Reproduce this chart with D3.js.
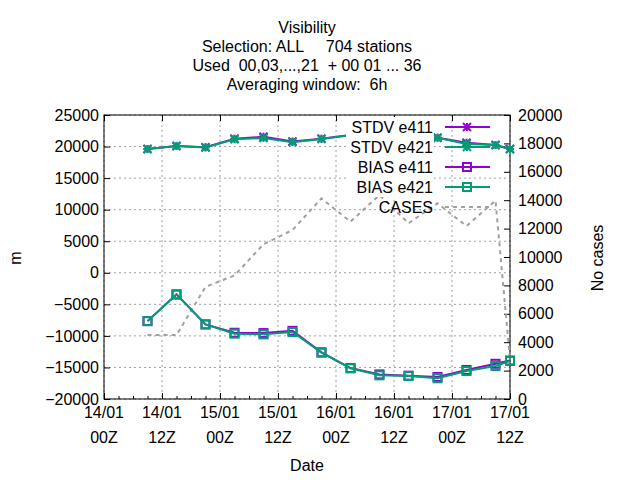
<!DOCTYPE html>
<html><head><meta charset="utf-8">
<script src="https://cdn.jsdelivr.net/npm/d3@7"></script>
<style>body{margin:0;background:#fff}text{font-family:"Liberation Sans",Arial,sans-serif;font-size:16px}</style>
</head><body><svg id="c" width="640" height="480"></svg>
<script>
// hours since 14/01 00Z
const hours = [9, 15, 21, 27, 33, 39, 45, 51, 57, 63, 69, 75, 81, 84];
const stdvE411 = [19600, 20100, 19900, 21250, 21550, 20800, 21250, 21850, 21800, 21600, 21400, 20600, 20250, 19600];
const stdvE421 = [19600, 20100, 19850, 21150, 21350, 20700, 21200, 21800, 21800, 21600, 21400, 20400, 20250, 19600];
const biasE411 = [-7660, -3430, -8180, -9500, -9550, -9200, -12600, -15100, -16100, -16300, -16500, -15400, -14420, -13900];
const biasE421 = [-7660, -3430, -8180, -9650, -9760, -9390, -12660, -15140, -16250, -16360, -16720, -15570, -14780, -13980];
const cases = [4500, 4500, 7900, 8700, 10900, 11900, 14130, 12490, 14370, 12370, 13780, 12180, 13970, 2750];
const xTickHours = [0, 12, 24, 36, 48, 60, 72, 84];
const xTickLabels = [["14/01","00Z"],["14/01","12Z"],["15/01","00Z"],["15/01","12Z"],["16/01","00Z"],["16/01","12Z"],["17/01","00Z"],["17/01","12Z"]];
const titleLines = ["Visibility", "Selection: ALL     704 stations", "Used  00,03,...,21  + 00 01 ... 36", "Averaging window:  6h"];

const L = 104, R = 510, T = 115, B = 399;
const svg = d3.select("#c");
const x = d3.scaleLinear().domain([0, 84]).range([L, R]);
const y = d3.scaleLinear().domain([-20000, 25000]).range([B, T]);
const y2 = d3.scaleLinear().domain([0, 20000]).range([B, T]);
const purple = "#9400d3", green = "#009e73", grey = "#a0a0a0";

// grid
const g = svg.append("g").attr("stroke", "#a0a0a0").attr("stroke-dasharray", "2,3").attr("stroke-width", 1);
y.ticks(9).forEach(v => g.append("line").attr("x1", L).attr("x2", R).attr("y1", y(v)).attr("y2", y(v)));
xTickHours.forEach(h => g.append("line").attr("x1", x(h)).attr("x2", x(h)).attr("y1", T).attr("y2", B));

// axes
svg.append("g").attr("transform", `translate(${L},0)`).call(d3.axisLeft(y).tickValues(d3.range(-20000, 25001, 5000)).tickFormat(d3.format("d")).tickSizeInner(-6).tickSizeOuter(0).tickPadding(5));
svg.append("g").attr("transform", `translate(${R},0)`).call(d3.axisRight(y2).tickValues(d3.range(0, 20001, 2000)).tickFormat(d3.format("d")).tickSizeInner(-6).tickSizeOuter(0).tickPadding(8));
svg.append("g").attr("transform", `translate(0,${B})`).call(d3.axisBottom(x).tickValues(d3.range(0, 85, 3)).tickFormat("").tickSizeInner(-3).tickSizeOuter(0));
svg.append("g").attr("transform", `translate(0,${B})`).call(d3.axisBottom(x).tickValues(xTickHours).tickFormat("").tickSizeInner(-6).tickSizeOuter(0));
svg.append("g").attr("transform", `translate(0,${T})`).call(d3.axisTop(x).tickValues(xTickHours).tickFormat("").tickSizeInner(-6).tickSizeOuter(0));
svg.selectAll(".domain").remove();
svg.selectAll(".tick text").attr("font-size", 16).attr("fill", "#000");
svg.selectAll(".tick line").attr("stroke", "#000");
svg.append("rect").attr("x", L).attr("y", T).attr("width", R - L).attr("height", B - T).attr("fill", "none").attr("stroke", "#000");

xTickHours.forEach((h, i) => {
  const t = svg.append("text").attr("x", x(h)).attr("text-anchor", "middle");
  t.append("tspan").attr("x", x(h)).attr("y", 418).text(xTickLabels[i][0]);
  t.append("tspan").attr("x", x(h)).attr("y", 443).text(xTickLabels[i][1]);
});

titleLines.forEach((s, i) => svg.append("text").attr("x", 307).attr("y", 33 + i * 19).attr("text-anchor", "middle").attr("xml:space", "preserve").text(s));
svg.append("text").attr("x", 307).attr("y", 471).attr("text-anchor", "middle").text("Date");
svg.append("text").attr("transform", "translate(21,258) rotate(-90)").attr("text-anchor", "middle").text("m");
svg.append("text").attr("transform", "translate(603,258) rotate(-90)").attr("text-anchor", "middle").text("No cases");

const line = d3.line().x((d, i) => x(hours[i])).y(d => y(d));
const line2 = d3.line().x((d, i) => x(hours[i])).y(d => y2(d));

svg.append("path").attr("d", line2(cases)).attr("fill", "none").attr("stroke", grey).attr("stroke-width", 2).attr("stroke-dasharray", "4,4");

function star(sel, cx, cy, col) {
  const s = 4;
  [[-s,0,s,0],[0,-s,0,s],[-s,-s,s,s],[-s,s,s,-s]].forEach(d =>
    sel.append("line").attr("x1", cx + d[0]).attr("y1", cy + d[1]).attr("x2", cx + d[2]).attr("y2", cy + d[3]).attr("stroke", col).attr("stroke-width", 2));
}
function square(sel, cx, cy, col) {
  sel.append("rect").attr("x", cx - 4).attr("y", cy - 4).attr("width", 8).attr("height", 8).attr("fill", "none").attr("stroke", col).attr("stroke-width", 2);
}
const series = [
  { name: "STDV e411", v: stdvE411, c: purple, m: star },
  { name: "STDV e421", v: stdvE421, c: green, m: star },
  { name: "BIAS e411", v: biasE411, c: purple, m: square },
  { name: "BIAS e421", v: biasE421, c: green, m: square }
];
series.forEach(s => {
  svg.append("path").attr("d", line(s.v)).attr("fill", "none").attr("stroke", s.c).attr("stroke-width", 2);
  s.v.forEach((d, i) => s.m(svg, x(hours[i]), y(d), s.c));
});

// legend
const legY = [127, 147, 167, 187];
const legend = svg.append("g");
series.forEach((s, i) => {
  legend.append("rect").attr("x", 346).attr("y", legY[i] - 10).attr("width", 88).attr("height", 20).attr("fill", "#fff");
  legend.append("text").attr("x", 433).attr("y", legY[i] + 6).attr("text-anchor", "end").text(s.name);
  legend.append("line").attr("x1", 445).attr("x2", 490).attr("y1", legY[i]).attr("y2", legY[i]).attr("stroke", s.c).attr("stroke-width", 2);
  s.m(legend, 467, legY[i], s.c);
});
legend.append("text").attr("x", 433).attr("y", 207 + 6).attr("text-anchor", "end").text("CASES");
legend.append("line").attr("x1", 445).attr("x2", 490).attr("y1", 207).attr("y2", 207).attr("stroke", grey).attr("stroke-width", 2).attr("stroke-dasharray", "4,4");
</script></body></html>
